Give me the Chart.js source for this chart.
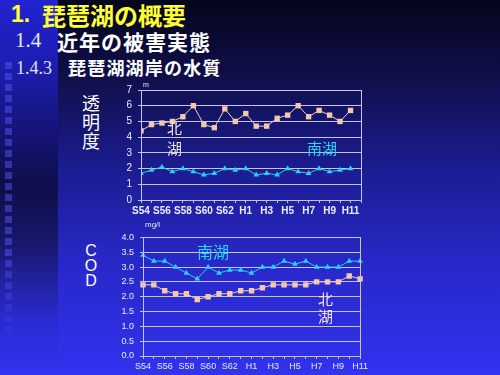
<!DOCTYPE html>
<html><head><meta charset="utf-8">
<script src="https://cdn.jsdelivr.net/npm/chart.js@4.4.0/dist/chart.umd.min.js"></script>
<style>
html,body{margin:0;padding:0;}
body{width:500px;height:375px;position:relative;overflow:hidden;
background:linear-gradient(to bottom,#05051c 0%,#10104e 22%,#1c1c92 45%,#2828c8 70%,#3232f0 100%);}
#strip{position:absolute;left:0;top:0;width:58px;height:375px;
background:linear-gradient(to bottom,#2222d0 0%,#1e1eb8 15%,#141478 35%,#0e0e48 50%,#18186e 65%,#2a2ad0 85%,#3232f0 100%);}
.sq{position:absolute;left:5px;width:7px;height:7px;background:rgba(90,90,255,0.45);}
.t{position:absolute;white-space:nowrap;line-height:1;}
.jp{font-family:"Noto Sans CJK JP";font-weight:bold;}
.sr{font-family:"Liberation Serif";}
canvas{position:absolute;}
.ann{position:absolute;font-family:"Noto Sans CJK JP";line-height:1;white-space:nowrap;}
</style></head>
<body>
<div id="strip"></div>
<div id="sqs"></div>
<div class="t jp" style="left:11px;top:3px;font-size:23px;color:#ffff33;font-family:'Liberation Sans';">1.</div>
<div class="t jp" style="left:42px;top:3px;font-size:24px;color:#ffff33;">琵琶湖の概要</div>
<div class="t sr" style="left:15px;top:30px;font-size:21px;color:#e8e8f8;">1.4</div>
<div class="t jp" style="left:57px;top:31px;font-size:21px;color:#ffffff;letter-spacing:1px;">近年の被害実態</div>
<div class="t sr" style="left:16px;top:59px;font-size:18px;color:#e0e0f0;">1.4.3</div>
<div class="t jp" style="left:68px;top:58px;font-size:18px;color:#ffffff;letter-spacing:1.2px;">琵琶湖湖岸の水質</div>

<div class="ann" style="left:82px;top:93px;font-size:18px;color:#ffffff;line-height:19px;">透<br>明<br>度</div>
<div class="ann" style="left:84px;top:243px;font-size:16px;color:#ffffff;line-height:15px;font-family:'Liberation Sans';text-align:center;width:14px;">C<br>O<br>D</div>

<canvas id="c1" width="270" height="145" style="left:100px;top:78px;width:270px;height:145px;"></canvas>
<canvas id="c2" width="270" height="149" style="left:100px;top:226px;width:270px;height:149px;"></canvas>

<div class="ann" style="left:143px;top:81px;font-size:7px;color:#e8e8ff;font-family:'Liberation Sans';">m</div>
<div class="ann" style="left:145px;top:221px;font-size:8px;color:#e8e8ff;font-family:'Liberation Sans';">mg/l</div>

<div class="ann" style="left:167px;top:118px;font-size:15px;color:#f4e4dc;line-height:20px;">北<br>湖</div>
<div class="ann" style="left:307px;top:140px;font-size:15px;color:#28d8f8;">南湖</div>
<div class="ann" style="left:197px;top:243px;font-size:16px;color:#28d8f8;">南湖</div>
<div class="ann" style="left:318px;top:290px;font-size:15px;color:#f4e4dc;line-height:17px;">北<br>湖</div>

<script>
// ---- data ----
const years = ["S54","S55","S56","S57","S58","S59","S60","S61","S62","S63",
  "H1","H2","H3","H4","H5","H6","H7","H8","H9","H10","H11"];
const transNorth = [4.4,4.8,4.9,5.0,5.3,6.0,4.8,4.6,5.8,5.0,5.5,4.7,4.7,5.2,5.4,6.0,5.3,5.7,5.4,5.0,5.7];
const transSouth = [1.7,1.9,2.1,1.8,2.0,1.8,1.6,1.7,2.0,1.9,2.0,1.6,1.7,1.6,2.0,1.8,1.7,2.0,1.8,1.9,2.0];
const codSouth = [3.4,3.2,3.2,3.0,2.8,2.6,3.0,2.8,2.9,2.9,2.8,3.0,3.0,3.2,3.1,3.2,3.0,3.0,3.0,3.2,3.2];
const codNorth = [2.4,2.4,2.2,2.1,2.1,1.9,2.0,2.1,2.1,2.2,2.2,2.3,2.4,2.4,2.4,2.4,2.5,2.5,2.5,2.7,2.6];
const transTicks = [0,1,2,3,4,5,6,7];
const codTicks = [0,0.5,1.0,1.5,2.0,2.5,3.0,3.5,4.0];

// decorative squares
const sqs = document.getElementById('sqs');
for (let y = 62; y < 335; y += 11) {
  const d = document.createElement('div'); d.className = 'sq'; d.style.top = y + 'px';
  d.style.opacity = (y > 250 ? Math.max(0.2, 1 - (y - 250) / 100) : 1);
  sqs.appendChild(d);
}

const gridCol = '#c4c4ee';
const tickCol = '#ececff';
const northCol = '#f6c8a6';
const northLine = '#ead2cc';
const southCol = '#2cd0f4';

const borderPlugin = {
  id: 'box',
  afterDatasetsDraw(chart) {
    const a = chart.chartArea, ctx = chart.ctx;
    ctx.save(); ctx.strokeStyle = gridCol; ctx.lineWidth = 1;
    ctx.strokeRect(Math.round(a.left) + 0.5, Math.round(a.top) + 0.5,
      Math.round(a.right - a.left), Math.round(a.bottom - a.top));
    ctx.restore();
  }
};
Chart.defaults.animation = false;
Chart.defaults.font.family = "'Liberation Sans', Arial, sans-serif";

new Chart(document.getElementById('c1'), {
  type: 'line',
  data: {
    datasets: [
      { data: transNorth.map((v, i) => ({x: i, y: v})), borderColor: northLine, borderWidth: 1,
        pointStyle: 'rect', pointRadius: 3.8, pointBackgroundColor: northCol, pointBorderColor: northCol, pointBorderWidth: 0 },
      { data: transSouth.map((v, i) => ({x: i, y: v})), borderColor: southCol, borderWidth: 1,
        pointStyle: 'triangle', pointRadius: 3.3, pointBackgroundColor: southCol, pointBorderColor: southCol, pointBorderWidth: 0 }
    ]
  },
  options: {
    responsive: false, maintainAspectRatio: false,
    layout: { padding: { top: 11, right: 9, left: 0, bottom: 0 } },
    plugins: { legend: { display: false }, tooltip: { enabled: false } },
    scales: {
      x: { type: 'linear', min: 0, max: years.length,
        afterFit(s) { s.height = 23; },
        afterBuildTicks(s) { s.ticks = Array.from({length: years.length + 1}, (_, i) => ({value: i})); },
        ticks: { autoSkip: false, maxRotation: 0, color: tickCol, padding: 2, font: { size: 10, weight: 'bold' },
          callback: v => (v % 2 === 0 && years[v]) ? years[v] : '' },
        grid: { drawOnChartArea: false, tickLength: 3, color: gridCol },
        border: { color: gridCol } },
      y: { min: 0, max: 7,
        afterFit(s) { s.width = 41; },
        afterBuildTicks(s) { s.ticks = transTicks.map(v => ({value: v})); },
        ticks: { color: tickCol, padding: 6, font: { size: 10 } },
        grid: { color: gridCol, tickLength: 3 },
        border: { color: gridCol } }
    }
  },
  plugins: [borderPlugin]
});

new Chart(document.getElementById('c2'), {
  type: 'line',
  data: {
    labels: years,
    datasets: [
      { data: codSouth, borderColor: southCol, borderWidth: 1,
        pointStyle: 'triangle', pointRadius: 3.3, pointBackgroundColor: southCol, pointBorderColor: southCol, pointBorderWidth: 0 },
      { data: codNorth, borderColor: northLine, borderWidth: 1,
        pointStyle: 'rect', pointRadius: 3.8, pointBackgroundColor: northCol, pointBorderColor: northCol, pointBorderWidth: 0 }
    ]
  },
  options: {
    responsive: false, maintainAspectRatio: false,
    layout: { padding: { top: 10, right: 9, left: 0, bottom: 0 } },
    plugins: { legend: { display: false }, tooltip: { enabled: false } },
    scales: {
      x: { type: 'category', offset: false,
        afterFit(s) { s.height = 19; },
        ticks: { autoSkip: false, maxRotation: 0, color: tickCol, padding: 2, font: { size: 9 },
          callback: (v, i) => (i % 2 === 0) ? years[i] : '' },
        grid: { drawOnChartArea: false, tickLength: 3, color: gridCol, offset: false },
        border: { color: gridCol } },
      y: { min: 0, max: 4,
        afterFit(s) { s.width = 43; },
        afterBuildTicks(s) { s.ticks = codTicks.map(v => ({value: v})); },
        ticks: { color: tickCol, padding: 6, font: { size: 9 }, callback: v => v.toFixed(1) },
        grid: { color: gridCol, tickLength: 3 },
        border: { color: gridCol } }
    }
  },
  plugins: [borderPlugin]
});
</script>
</body></html>
